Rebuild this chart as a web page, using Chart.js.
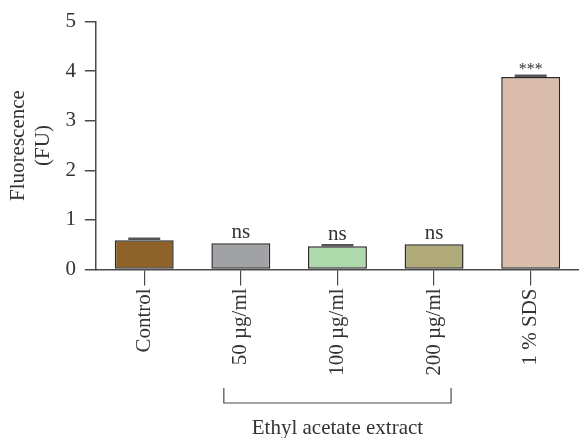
<!DOCTYPE html>
<html>
<head>
<meta charset="utf-8">
<script src="https://cdn.jsdelivr.net/npm/chart.js"></script>
<style>
  html, body { margin: 0; padding: 0; background: #fff; }
  #wrap { width: 579px; height: 438px; }
</style>
</head>
<body>
<div id="wrap"><canvas id="chart"></canvas></div>
<script>
const categories = ["Control", "50 µg/ml", "100 µg/ml", "200 µg/ml", "1 % SDS"];
const fluorescence = [0.59, 0.53, 0.47, 0.51, 3.88];
const errors = [0.03, 0.0, 0.02, 0.0, 0.03];
const significance = ["", "ns", "ns", "ns", "***"];
const barColors = ["#8f6229", "#a1a2a6", "#aed9ab", "#b0a978", "#d9bca9"];
const groupLabel = "Ethyl acetate extract";
const groupRange = [1, 3];

const serif = "'Liberation Serif', 'DejaVu Serif', serif";
const ink = "#333";
const axisColor = "#4a4a4a";

// error bars, significance marks and the bracket under the extract group
const extras = {
    id: "extras",
    afterDatasetsDraw(chart) {
        const ctx = chart.ctx;
        const meta = chart.getDatasetMeta(0);
        const y = chart.scales.y;
        ctx.save();
        meta.data.forEach((bar, i) => {
            const top = y.getPixelForValue(fluorescence[i] + errors[i]);
            if (errors[i] > 0) {
                ctx.strokeStyle = "#555";
                ctx.lineWidth = 2.5;
                ctx.beginPath();
                ctx.moveTo(bar.x - 16, top);
                ctx.lineTo(bar.x + 16, top);
                ctx.stroke();
            }
            if (significance[i]) {
                ctx.fillStyle = ink;
                ctx.textAlign = "center";
                ctx.textBaseline = "alphabetic";
                ctx.font = (significance[i] === "***" ? "16px " : "21px ") + serif;
                ctx.fillText(significance[i], bar.x, top - (significance[i] === "***" ? 2 : 5));
            }
        });
        // bracket
        const x = chart.scales.x;
        const x0 = x.getPixelForValue(groupRange[0]) - 17;
        const x1 = x.getPixelForValue(groupRange[1]) + 17;
        const yb = x.bottom - 35;
        ctx.strokeStyle = axisColor;
        ctx.lineWidth = 1.2;
        ctx.beginPath();
        ctx.moveTo(x0, yb - 15);
        ctx.lineTo(x0, yb);
        ctx.lineTo(x1, yb);
        ctx.lineTo(x1, yb - 15);
        ctx.stroke();
        ctx.restore();
    }
};

new Chart(document.getElementById("chart"), {
    type: "bar",
    data: {
        labels: categories,
        datasets: [{
            data: fluorescence,
            backgroundColor: barColors,
            borderColor: "#2a2a2a",
            borderWidth: 1.5,
            borderSkipped: false,
            barPercentage: 0.61,
            categoryPercentage: 1.0
        }]
    },
    options: {
        responsive: true,
        maintainAspectRatio: false,
        animation: false,
        layout: { padding: { left: 6, top: 14, right: 0, bottom: 0 } },
        plugins: {
            legend: { display: false },
            tooltip: { enabled: false }
        },
        scales: {
            x: {
                grid: { drawOnChartArea: false, offset: false, tickLength: 16, color: axisColor, lineWidth: 1.2 },
                border: { color: axisColor, width: 1.5 },
                ticks: {
                    minRotation: 90, maxRotation: 90, padding: 3,
                    color: ink, font: { family: serif, size: 21 }
                },
                title: {
                    display: true, text: groupLabel, color: ink,
                    font: { family: serif, size: 21 },
                    padding: { top: 37, bottom: -3 }
                }
            },
            y: {
                min: 0, max: 5,
                grid: { drawOnChartArea: false, tickLength: 11, color: axisColor, lineWidth: 1.5 },
                border: { color: axisColor, width: 1.5 },
                ticks: {
                    stepSize: 1, padding: 9,
                    color: ink, font: { family: serif, size: 21 }
                },
                title: {
                    display: true, text: ["Fluorescence", "(FU)"], color: ink,
                    font: { family: serif, size: 21, lineHeight: 1.2 },
                    padding: { top: 0, bottom: 0 }
                }
            }
        }
    },
    plugins: [extras]
});
</script>
</body>
</html>
